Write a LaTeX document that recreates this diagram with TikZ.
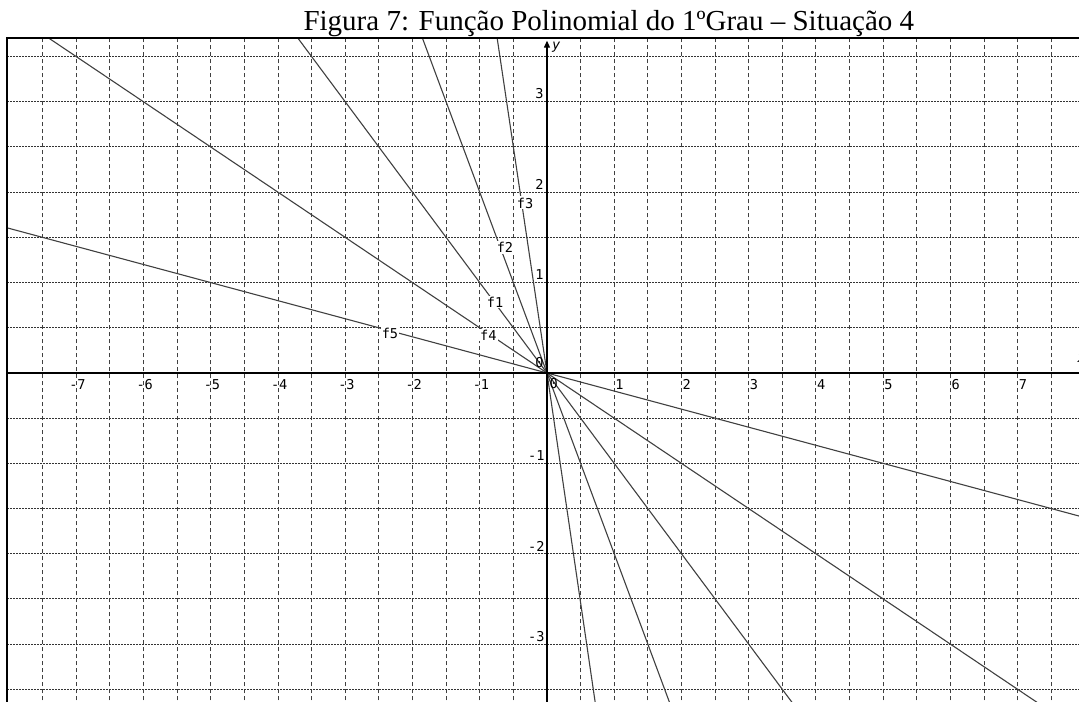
\documentclass[tikz,border=0pt]{standalone}
\usepackage{fontspec}
\setmainfont{Liberation Serif}
\newfontfamily\labfont{DejaVu Sans Mono}
\usetikzlibrary{arrows.meta}
\begin{document}
\begin{tikzpicture}[x=33.625pt,y=45.2pt,
  vgrid/.style={black!75,line width=0.5pt,dash pattern=on 2pt off 1.5pt},
  hgrid/.style={black!80,line width=0.5pt,dash pattern=on 1pt off 0.5pt},
  fline/.style={black!75,line width=0.55pt},
  axisline/.style={black,line width=0.6pt},
  flab/.style={fill=white,inner sep=0.6pt,font=\labfont\fontsize{6.8}{7}\selectfont},
  ticklab/.style={inner sep=0pt,font=\labfont\fontsize{6.8}{7}\selectfont},
  framel/.style={black,line width=1pt}]
\useasboundingbox (-8.134,-3.639) rectangle (7.911,4.126);
\begin{scope}
\clip (-8.134,-3.639) rectangle (7.911,4.126);
% grid
\foreach \gx in {-7.5,-7,...,-0.5,0.5,1,...,7.5}
  \draw[vgrid] (\gx,-3.7) -- (\gx,3.702);
\foreach \gy in {-3.5,-3,...,-0.5,0.5,1,...,3.5}
  \draw[hgrid] (-8.03,\gy) -- (8,\gy);
% functions
\coordinate (O) at (0,0);
\coordinate (f3a) at (-0.7404,3.702); \coordinate (f3b) at (0.7278,-3.7);
\coordinate (f2a) at (-1.851,3.702);  \coordinate (f2b) at (1.85,-3.7);
\coordinate (f1a) at (-3.702,3.702);  \coordinate (f1b) at (3.7,-3.7);
\coordinate (f4a) at (-7.404,3.702);  \coordinate (f4b) at (7.4,-3.7);
\coordinate (f5a) at (-8.03,1.606);   \coordinate (f5b) at (8,-1.6);
\draw[fline] (f3a) -- (O) -- (f3b);
\draw[fline] (f2a) -- (O) -- (f2b);
\draw[fline] (f1a) -- (O) -- (f1b);
\draw[fline] (f4a) -- (O) -- (f4b);
\draw[fline] (f5a) -- (O) -- (f5b);
\node[flab] (l1) at (-0.773,0.785) {f1};
\node[flab] (l2) at (-0.625,1.388) {f2};
\node[flab] (l3) at (-0.327,1.881) {f3};
\node[flab] (l4) at (-0.873,0.420) {f4};
\node[flab] (l5) at (-2.335,0.439) {f5};
% axes
\coordinate (xl) at (-8.03,0); \coordinate (xr) at (8,0);
\coordinate (yb) at (0,-3.7); \coordinate (yt) at (0,3.676);
\draw[axisline] (xl) -- (xr);
\draw[axisline,-{Triangle[length=3.5pt,width=3pt]}] (yb) -- (yt);
\node[ticklab,anchor=north west,font=\labfont\itshape\fontsize{6.8}{7}\selectfont] (ylab) at (0.07,3.66) {y};
\node[ticklab,anchor=base west,font=\labfont\itshape\fontsize{6.8}{7}\selectfont] (xlab) at (7.885,0.12) {x};
% tick labels
\foreach \k in {1,...,7}
  \node[ticklab,anchor=base west] (xp\k) at (\k+0.012,-0.188) {\k};
\foreach \k in {1,...,7}
  \node[ticklab,anchor=base west] (xn\k) at (-\k+0.012,-0.188) {\llap{-}\k};
\foreach \k in {1,2,3}
  \node[ticklab,anchor=base east] (yp\k) at (-0.045,\k+0.035) {\k};
\foreach \k in {1,2,3}
  \node[ticklab,anchor=base east] (yn\k) at (-0.03,-\k+0.028) {-\k};
\node[ticklab,anchor=base east] (y0) at (-0.045,0.063) {0};
\node[ticklab,anchor=base west] (x0) at (0.033,-0.168) {0};
% frame
\draw[framel] (-8.03,-3.7) -- (-8.03,3.702) -- (8,3.702);
\end{scope}
% title
\node[anchor=base,inner sep=0pt,font=\fontsize{14.5}{16}\selectfont] (title) at (0.92,3.794) {Figura 7: Função Polinomial do 1ºGrau – Situação 4};
\end{tikzpicture}
\end{document}
